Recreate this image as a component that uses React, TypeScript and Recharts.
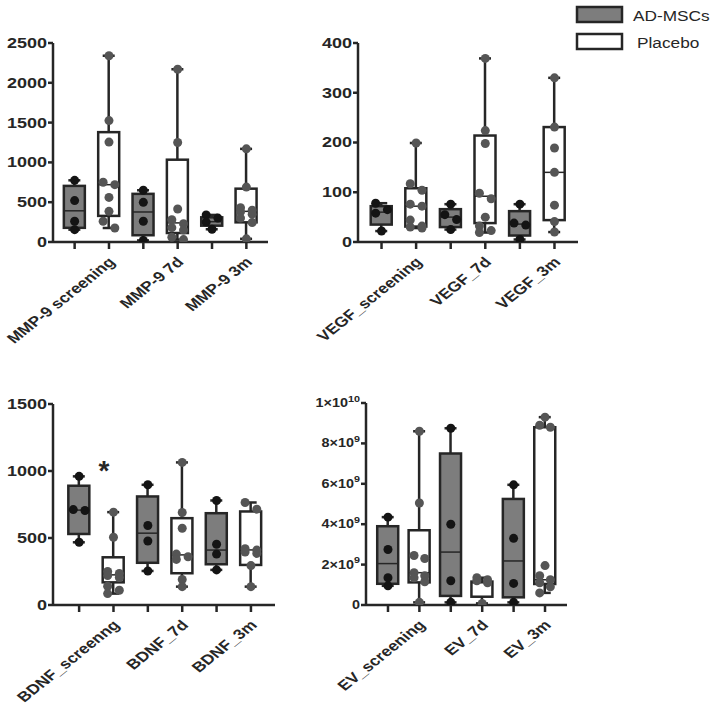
import { Bar, ComposedChart, ReferenceDot, Scatter, XAxis, YAxis } from 'recharts'

const groups = ['AD-MSCs', 'Placebo']
const groupFill = ['#7d7d7d', '#ffffff']
const dotFill = ['#141414', '#555555']
const ink = '#262626'

// MMP-9 (order: AD-MSCs, Placebo for each time point)
const mmpLabels = ['MMP-9 screening', 'MMP-9 7d', 'MMP-9 3m']
const mmpTicks = [0, 500, 1000, 1500, 2000, 2500]
const mmpPoints = [
  [775, 520, 260, 155],
  [2340, 1525, 1255, 750, 720, 560, 385, 260, 176],
  [650, 498, 260, 20],
  [2170, 1250, 415, 280, 230, 180, 150, 60, 30],
  [340, 300, 250, 160],
  [1170, 690, 430, 400, 380, 350, 300, 245, 40],
]
const mmpQ1 = [178, 328, 85, 113, 205, 247]
const mmpMed = [392, 720, 377, 240, 255, 385]
const mmpQ3 = [705, 1380, 605, 1034, 310, 670]

// VEGF
const vegfLabels = ['VEGF_screening', 'VEGF_7d', 'VEGF_3m']
const vegfTicks = [0, 100, 200, 300, 400]
const vegfPoints = [
  [78, 65, 58, 22],
  [199, 117, 104, 76, 72, 44, 32, 30, 28],
  [76, 55, 45, 25],
  [369, 224, 198, 98, 87, 50, 32, 23, 19],
  [76, 38, 34, 5],
  [330, 231, 189, 140, 74, 41, 20],
]
const vegfQ1 = [35, 31, 30, 38, 13, 44]
const vegfMed = [60, 72, 50, 92, 36, 140]
const vegfQ3 = [72, 108, 66, 214, 62, 231]

// BDNF
const bdnfLabels = ['BDNF_screenng', 'BDNF_7d', 'BDNF_3m']
const bdnfTicks = [0, 500, 1000, 1500]
const bdnfPoints = [
  [960, 712, 705, 468],
  [693, 506, 250, 235, 220, 205, 140, 110, 85],
  [897, 593, 478, 254],
  [1064, 690, 573, 380, 360, 340, 190, 137],
  [780, 453, 380, 262],
  [765, 715, 420, 410, 395, 385, 294, 137],
]
const bdnfQ1 = [530, 169, 315, 237, 304, 299]
const bdnfMed = [708, 225, 536, 374, 410, 411]
const bdnfQ3 = [890, 356, 810, 648, 685, 698]
const bdnfStar = { x: 0.72, y: 1040, text: '*' }

// EV
const evLabels = ['EV_screening', 'EV_7d', 'EV_3m']
const evTicks = [0, 2e9, 4e9, 6e9, 8e9, 1e10]
const evPoints = [
  [4.35e9, 2.75e9, 1.35e9, 0.95e9],
  [8.6e9, 5.05e9, 2.45e9, 2.3e9, 1.6e9, 1.45e9, 1.35e9, 1.15e9, 0.13e9],
  [8.75e9, 4.0e9, 1.2e9, 0.13e9],
  [1.35e9, 1.25e9, 1.2e9, 1.1e9, 0.08e9],
  [5.95e9, 3.3e9, 1.07e9, 0.13e9],
  [9.3e9, 8.9e9, 8.8e9, 1.95e9, 1.45e9, 1.25e9, 1.1e9, 0.9e9, 0.6e9],
]
const evQ1 = [1.05e9, 1.12e9, 0.45e9, 0.41e9, 0.38e9, 1.04e9]
const evMed = [2.05e9, 1.6e9, 2.62e9, 1.1e9, 2.18e9, 1.25e9]
const evQ3 = [3.9e9, 3.7e9, 7.5e9, 1.16e9, 5.25e9, 8.8e9]

const BOX_W = 21

const buildBoxes = (points: number[][], q1: number[], med: number[], q3: number[]) =>
  points.map((pts, i) => ({
    x: i,
    min: Math.min(...pts),
    max: Math.max(...pts),
    q1: q1[i],
    med: med[i],
    q3: q3[i],
    group: i % 2,
  }))

// spread overlapping points sideways a little, like a scatter dot plot
const buildDots = (points: number[][], group: number, top: number) => {
  const out: { x: number; y: number }[] = []
  points.forEach((pts, i) => {
    if (i % 2 !== group) return
    const sorted = [...pts].sort((a, b) => b - a)
    let side = 1
    sorted.forEach((v, k) => {
      const near = sorted.some((w, j) => j !== k && Math.abs(w - v) < top * 0.035)
      let dx = 0
      if (near) {
        side = -side
        dx = side * 0.17
      }
      out.push({ x: i + dx, y: v })
    })
  })
  return out
}

const BoxShape = (props: any) => {
  const { x, y, width, height, payload } = props
  const { min, max, q1, med, q3, group } = payload
  const top = Math.min(y, y + height)
  const h = Math.abs(height)
  const py = (v: number) => top + (h * (max - v)) / (max - min || 1)
  const cx = x + width / 2
  const bx = cx - BOX_W / 2
  return (
    <g>
      <line x1={cx} x2={cx} y1={py(max)} y2={py(q3)} stroke={ink} strokeWidth={2.5} />
      <line x1={cx} x2={cx} y1={py(q1)} y2={py(min)} stroke={ink} strokeWidth={2.5} />
      <line x1={cx - 6} x2={cx + 6} y1={py(max)} y2={py(max)} stroke={ink} strokeWidth={2.5} />
      <line x1={cx - 6} x2={cx + 6} y1={py(min)} y2={py(min)} stroke={ink} strokeWidth={2.5} />
      <rect
        x={bx}
        y={py(q3)}
        width={BOX_W}
        height={Math.max(py(q1) - py(q3), 1)}
        fill={groupFill[group]}
        stroke={ink}
        strokeWidth={2.5}
      />
      <line x1={bx} x2={bx + BOX_W} y1={py(med)} y2={py(med)} stroke={ink} strokeWidth={1.5} />
    </g>
  )
}

const XTick = (props: any) => {
  const { x, y, payload, labels } = props
  const i = Math.round(payload.value)
  if (i % 2 !== 1) return <g />
  return (
    <text
      transform={`translate(${x + 7},${y + 12}) scale(1.25,1) rotate(-45)`}
      textAnchor="end"
      fontSize={14}
      fontWeight={700}
      fill={ink}
    >
      {labels[(i - 1) / 2]}
    </text>
  )
}

const YTick = (props: any) => {
  const { x, y, payload, sci } = props
  const v = payload.value as number
  let content: any = String(v)
  if (sci && v !== 0) {
    const exp = Math.floor(Math.log10(v) + 1e-9)
    const m = Math.round(v / 10 ** exp)
    content = (
      <>
        {`${m}×10`}
        <tspan dy={-5} fontSize={9}>
          {exp}
        </tspan>
      </>
    )
  }
  return (
    <text
      transform={`translate(${x + 1},${y}) scale(1.2,1)`}
      textAnchor="end"
      dominantBaseline="central"
      fontSize={sci ? 12 : 15}
      fontWeight={700}
      fill={ink}
    >
      {content}
    </text>
  )
}

type PanelProps = {
  left: number
  top: number
  width: number
  height: number
  yAxisWidth: number
  xAxisHeight: number
  xDomain: [number, number]
  ticks: number[]
  labels: string[]
  points: number[][]
  q1: number[]
  med: number[]
  q3: number[]
  sci?: boolean
  children?: any
}

const BoxPanel = (p: PanelProps) => {
  const yMax = p.ticks[p.ticks.length - 1]
  const boxes = buildBoxes(p.points, p.q1, p.med, p.q3)
  return (
    <div style={{ position: 'absolute', left: p.left, top: p.top }}>
      <ComposedChart
        width={p.width}
        height={p.height}
        data={boxes}
        margin={{ top: 43, right: 22, bottom: 0, left: 0 }}
      >
        <XAxis
          type="number"
          dataKey="x"
          domain={p.xDomain}
          ticks={[0, 1, 2, 3, 4, 5]}
          interval={0}
          allowDataOverflow
          height={p.xAxisHeight}
          axisLine={{ stroke: ink, strokeWidth: 2.5 }}
          tickLine={{ stroke: ink, strokeWidth: 2.5 }}
          tickSize={7}
          tick={(t: any) => <XTick {...t} labels={p.labels} />}
        />
        <YAxis
          type="number"
          domain={[0, yMax]}
          ticks={p.ticks}
          interval={0}
          allowDataOverflow
          width={p.yAxisWidth}
          axisLine={{ stroke: ink, strokeWidth: 2.5 }}
          tickLine={{ stroke: ink, strokeWidth: 2.5 }}
          tickSize={5}
          tick={(t: any) => <YTick {...t} sci={p.sci} />}
        />
        <Bar
          dataKey={(d: any) => [d.min, d.max]}
          barSize={BOX_W}
          shape={BoxShape}
          isAnimationActive={false}
        />
        {groups.map((g, gi) => (
          <Scatter
            key={g}
            name={g}
            data={buildDots(p.points, gi, yMax)}
            dataKey="y"
            isAnimationActive={false}
            shape={(s: any) => <circle cx={s.cx} cy={s.cy} r={4.5} fill={dotFill[gi]} />}
          />
        ))}
        {p.children}
      </ComposedChart>
    </div>
  )
}

const LegendBox = () => (
  <svg style={{ position: 'absolute', left: 570, top: 0 }} width={149} height={60}>
    {groups.map((g, i) => (
      <g key={g}>
        <rect
          x={7}
          y={7 + i * 27}
          width={45}
          height={15}
          fill={groupFill[i]}
          stroke={ink}
          strokeWidth={2.5}
        />
        <text
          transform={`translate(${63 + i * 4},${15 + i * 27}) scale(1.15,1)`}
          dominantBaseline="central"
          fontSize={15}
          fill={ink}
        >
          {g}
        </text>
      </g>
    ))}
  </svg>
)

export default function App() {
  return (
    <div
      style={{
        position: 'absolute',
        left: 0,
        top: 0,
        width: 719,
        height: 715,
        background: '#ffffff',
        fontFamily: '"Liberation Sans", Arial, sans-serif',
      }}
    >
      <BoxPanel
        left={0}
        top={0}
        width={290}
        height={350}
        yAxisWidth={53}
        xAxisHeight={108}
        xDomain={[-0.63, 5.63]}
        ticks={mmpTicks}
        labels={mmpLabels}
        points={mmpPoints}
        q1={mmpQ1}
        med={mmpMed}
        q3={mmpQ3}
      />
      <BoxPanel
        left={300}
        top={0}
        width={300}
        height={350}
        yAxisWidth={58}
        xAxisHeight={108}
        xDomain={[-0.68, 5.68]}
        ticks={vegfTicks}
        labels={vegfLabels}
        points={vegfPoints}
        q1={vegfQ1}
        med={vegfMed}
        q3={vegfQ3}
      />
      <BoxPanel
        left={0}
        top={361}
        width={297}
        height={344}
        yAxisWidth={53}
        xAxisHeight={100}
        xDomain={[-0.76, 5.7]}
        ticks={bdnfTicks}
        labels={bdnfLabels}
        points={bdnfPoints}
        q1={bdnfQ1}
        med={bdnfMed}
        q3={bdnfQ3}
      >
        <ReferenceDot
          x={bdnfStar.x}
          y={bdnfStar.y}
          r={0}
          shape={(s: any) => (
            <text
              x={s.cx}
              y={s.cy + 14}
              textAnchor="middle"
              fontSize={28}
              fontWeight={700}
              fill={ink}
            >
              {bdnfStar.text}
            </text>
          )}
        />
      </BoxPanel>
      <BoxPanel
        left={310}
        top={360}
        width={279}
        height={345}
        yAxisWidth={56}
        xAxisHeight={100}
        xDomain={[-0.7, 5.7]}
        ticks={evTicks}
        labels={evLabels}
        points={evPoints}
        q1={evQ1}
        med={evMed}
        q3={evQ3}
        sci
      />
      <LegendBox />
    </div>
  )
}
